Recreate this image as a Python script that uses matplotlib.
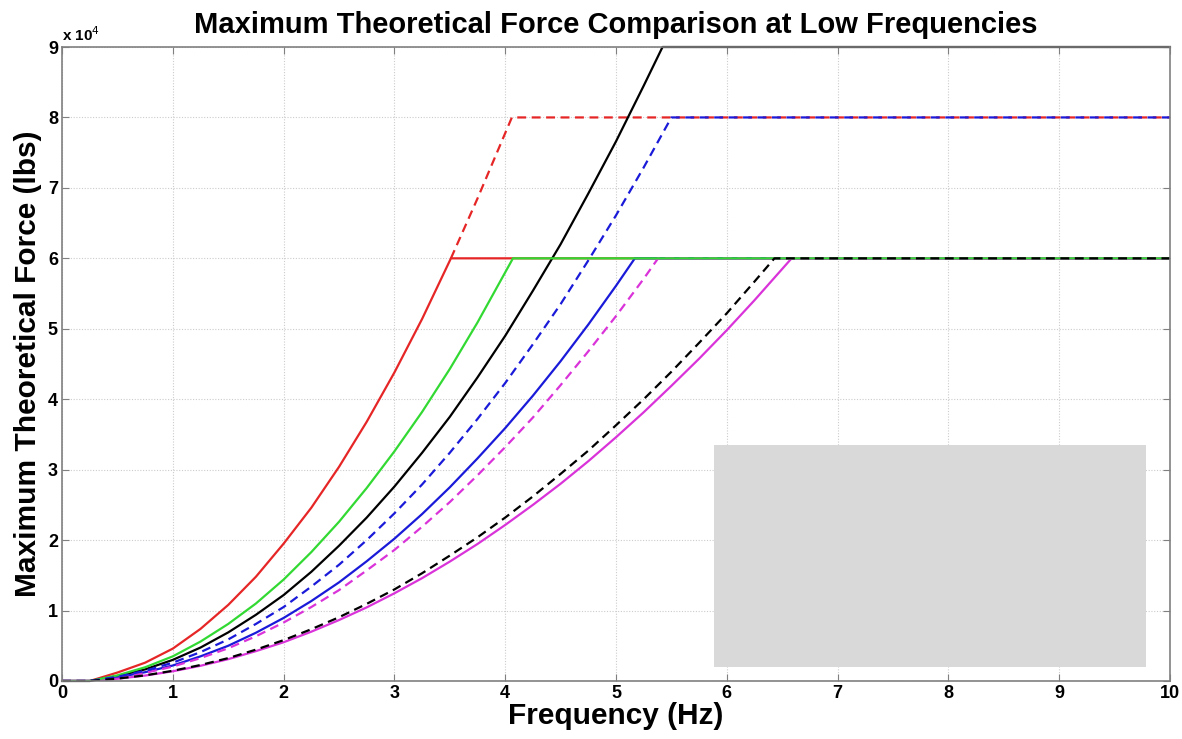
import matplotlib.pyplot as plt
from matplotlib.patches import Rectangle

plt.rcParams['font.family'] = ['Liberation Sans', 'DejaVu Sans']

# values (Hz, lbs), quarter-Hz steps up to each cap
f_red = [0, 0.25, 0.5, 0.75, 1, 1.25, 1.5, 1.75, 2, 2.25, 2.5, 2.75, 3, 3.25,
         3.51, 10]
F_red = [0, 0, 1200, 2600, 4600, 7400, 10800, 14800, 19500, 24600, 30400,
         36800, 43800, 51400, 60000, 60000]

f_red_d = [3.51, 3.75, 4.06, 10]
F_red_d = [60000, 68500, 80000, 80000]

f_green = [0, 0.25, 0.5, 0.75, 1, 1.25, 1.5, 1.75, 2, 2.25, 2.5, 2.75, 3,
           3.25, 3.5, 3.75, 4.07, 10]
F_green = [0, 0, 800, 1950, 3500, 5600, 8100, 11000, 14400, 18300, 22600,
           27400, 32600, 38200, 44300, 50900, 60000, 60000]

f_black = [0, 0.25, 0.5, 0.75, 1, 1.25, 1.5, 1.75, 2, 2.25, 2.5, 2.75, 3,
           3.25, 3.5, 3.75, 4, 4.25, 4.5, 4.75, 5, 5.25, 5.42, 10]
F_black = [0, 0, 700, 1650, 3000, 4750, 6900, 9400, 12200, 15500, 19200,
           23200, 27600, 32400, 37500, 43100, 49000, 55400, 62000, 69200,
           76600, 84500, 90000, 90000]

f_blue_d = [0, 0.25, 0.5, 0.75, 1, 1.25, 1.5, 1.75, 2, 2.25, 2.5, 2.75, 3,
            3.25, 3.5, 3.75, 4, 4.25, 4.5, 4.75, 5, 5.25, 5.5, 10]
F_blue_d = [0, 0, 600, 1450, 2600, 4100, 5900, 8100, 10500, 13400, 16500,
            20000, 23800, 27900, 32400, 37200, 42300, 47800, 53500, 59700,
            66100, 72900, 80000, 80000]

f_blue = [0, 0.25, 0.5, 0.75, 1, 1.25, 1.5, 1.75, 2, 2.25, 2.5, 2.75, 3,
          3.25, 3.5, 3.75, 4, 4.25, 4.5, 4.75, 5, 5.17, 10]
F_blue = [0, 0, 520, 1250, 2200, 3500, 5000, 6850, 8950, 11350, 14000, 17000,
          20200, 23700, 27500, 31600, 35900, 40500, 45400, 50600, 56100,
          60000, 60000]

f_mag_d = [0, 0.25, 0.5, 0.75, 1, 1.25, 1.5, 1.75, 2, 2.25, 2.5, 2.75, 3,
           3.25, 3.5, 3.75, 4, 4.25, 4.5, 4.75, 5, 5.25, 5.38, 10]
F_mag_d = [0, 0, 480, 1150, 2050, 3250, 4650, 6350, 8300, 10500, 12900,
           15700, 18600, 21900, 25400, 29200, 33200, 37400, 42000, 46800,
           51800, 57100, 60000, 60000]

f_black_d = [0, 0.25, 0.5, 0.75, 1, 1.25, 1.5, 1.75, 2, 2.25, 2.5, 2.75, 3,
             3.25, 3.5, 3.75, 4, 4.25, 4.5, 4.75, 5, 5.25, 5.5, 5.75, 6,
             6.25, 6.43, 10]
F_black_d = [0, 0, 340, 800, 1450, 2270, 3250, 4450, 5800, 7350, 9050, 10950,
             13000, 15300, 17800, 20400, 23200, 26200, 29400, 32700, 36300,
             40000, 43900, 48000, 52200, 56700, 60000, 60000]

f_mag = [0, 0.25, 0.5, 0.75, 1, 1.25, 1.5, 1.75, 2, 2.25, 2.5, 2.75, 3, 3.25,
         3.5, 3.75, 4, 4.25, 4.5, 4.75, 5, 5.25, 5.5, 5.75, 6, 6.25, 6.585, 10]
F_mag = [0, 0, 320, 770, 1380, 2160, 3100, 4240, 5500, 7000, 8650, 10450,
         12450, 14600, 16950, 19450, 22150, 25000, 28000, 31200, 34600, 38150,
         41900, 45750, 49800, 54050, 60000, 60000]

red = (0.9, 0.15, 0.15)
green = (0.2, 0.85, 0.2)
blue = (0.1, 0.1, 0.85)
magenta = (0.85, 0.2, 0.85)
dash = (0, (4, 2.5))
lw = 1.6

fig = plt.figure(figsize=(11.82, 7.39), dpi=100)
ax = fig.add_axes([0.0525, 0.0785, 0.9373, 0.8579])

ax.plot(f_red, F_red, color=red, lw=lw)
ax.plot(f_red_d, F_red_d, color=red, lw=lw, linestyle=dash)
ax.plot(f_black, F_black, color='black', lw=lw, clip_on=False)
ax.plot(f_blue, F_blue, color=blue, lw=lw)
ax.plot(f_mag_d, F_mag_d, color=magenta, lw=lw, linestyle=dash)
ax.plot(f_mag, F_mag, color=magenta, lw=lw)
ax.plot(f_green, F_green, color=green, lw=lw)
ax.plot(f_blue_d, F_blue_d, color=blue, lw=lw, linestyle=dash)
ax.plot(f_black_d, F_black_d, color='black', lw=lw, linestyle=dash)

ax.set_xlim(0, 10)
ax.set_ylim(0, 90000)
ax.set_xticks(range(0, 11))
ax.set_yticks([i * 10000 for i in range(10)])
ax.set_yticklabels([str(i) for i in range(10)])
ax.grid(True, color='#cccccc', linestyle=(0, (1, 1.5)), lw=0.8)
ax.tick_params(direction='in', top=True, right=True, length=5,
               color='#808080', labelsize=13, pad=3)
for lab in ax.get_xticklabels() + ax.get_yticklabels():
    lab.set_fontweight('bold')
for s in ax.spines.values():
    s.set_color('#808080')
    s.set_linewidth(1.2)

ax.text(0.0, 1.005, r'x 10$^4$', transform=ax.transAxes, fontsize=11,
        fontweight='bold', va='bottom', ha='left')

ax.set_title('Maximum Theoretical Force Comparison at Low Frequencies',
             fontsize=21, fontweight='bold', pad=10)
ax.set_xlabel('Frequency (Hz)', fontsize=21.5, fontweight='bold', labelpad=0)
ax.set_ylabel('Maximum Theoretical Force (lbs)', fontsize=21.5,
              fontweight='bold', labelpad=4)

# legend area is blanked out in the reference
ax.add_patch(Rectangle((0.5884, 0.0221), 0.39, 0.3501, transform=ax.transAxes,
                       facecolor='#d9d9d9', edgecolor='none', zorder=5))

fig.savefig('out.png', dpi=100)
